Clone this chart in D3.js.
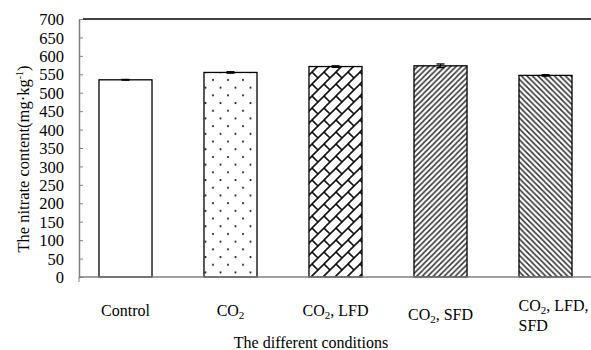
<!DOCTYPE html>
<html>
<head>
<meta charset="utf-8">
<script src="https://cdn.jsdelivr.net/npm/d3@7"></script>
<style>
  body { margin: 0; background: #fff; }
  svg, svg text { font-family: 'Liberation Serif', 'DejaVu Serif', serif !important; fill: #000; }
</style>
</head>
<body>
<div id="chart"></div>
<script>
// values
const categories = ['Control', 'CO2', 'CO2, LFD', 'CO2, SFD', 'CO2, LFD, SFD'];
const nitrate = [535, 555, 571, 573, 547];
const errors = [1, 2, 2, 5, 2];
const yTicks = [0, 50, 100, 150, 200, 250, 300, 350, 400, 450, 500, 550, 600, 650, 700];

const width = 591, height = 350;
const axisX = 79, plotTop = 19, plotBottom = 277;
const serif = "'Liberation Serif', 'DejaVu Serif', serif";

const svg = d3.select('#chart')
  .append('svg')
  .attr('width', width)
  .attr('height', height)
  .style('font-family', serif);

const defs = svg.append('defs');

// dotted fill
const dots = defs.append('pattern')
  .attr('id', 'dots').attr('patternUnits', 'userSpaceOnUse')
  .attr('width', 15).attr('height', 15.4);
dots.append('rect').attr('width', 15).attr('height', 15.4).attr('fill', '#fff');
dots.append('circle').attr('cx', 3).attr('cy', 3).attr('r', 1.1).attr('fill', '#222');
dots.append('circle').attr('cx', 10.5).attr('cy', 10.7).attr('r', 1.1).attr('fill', '#222');

// diagonal brick
const brick = defs.append('pattern')
  .attr('id', 'brick').attr('patternUnits', 'userSpaceOnUse')
  .attr('width', 12).attr('height', 12);
brick.append('rect').attr('width', 12).attr('height', 12).attr('fill', '#fff');
brick.append('path')
  .attr('d', 'M-1,13L13,-1M-1,1L1,-1M11,13L13,11M0,0L6,6')
  .attr('stroke', '#111').attr('stroke-width', 1.6).attr('fill', 'none');

// dense up diagonal
const up = defs.append('pattern')
  .attr('id', 'up').attr('patternUnits', 'userSpaceOnUse')
  .attr('width', 5.5).attr('height', 5.5);
up.append('rect').attr('width', 5.5).attr('height', 5.5).attr('fill', '#fff');
up.append('path')
  .attr('d', 'M-1,6.5L6.5,-1M-1,1L1,-1M4.5,6.5L6.5,4.5')
  .attr('stroke', '#333').attr('stroke-width', 1.5);

// dense down diagonal
const down = defs.append('pattern')
  .attr('id', 'down').attr('patternUnits', 'userSpaceOnUse')
  .attr('width', 5.5).attr('height', 5.5);
down.append('rect').attr('width', 5.5).attr('height', 5.5).attr('fill', '#fff');
down.append('path')
  .attr('d', 'M-1,-1L6.5,6.5M4.5,-1L6.5,1M-1,4.5L1,6.5')
  .attr('stroke', '#333').attr('stroke-width', 1.5);

const fills = ['#fff', 'url(#dots)', 'url(#brick)', 'url(#up)', 'url(#down)'];

const x = d3.scaleBand()
  .domain(categories)
  .range([73, 598])
  .paddingInner(0.495)
  .paddingOuter(0.2475);

const y = d3.scaleLinear()
  .domain([0, 700])
  .range([plotBottom, plotTop]);

// top frame line
svg.append('line')
  .attr('x1', axisX + 4).attr('x2', width)
  .attr('y1', y(700)).attr('y2', y(700))
  .attr('stroke', '#000').attr('stroke-width', 1.3);

// bars
svg.selectAll('rect.bar')
  .data(categories)
  .enter()
  .append('rect')
  .attr('class', 'bar')
  .attr('x', d => x(d))
  .attr('y', (d, i) => y(nitrate[i]))
  .attr('width', x.bandwidth())
  .attr('height', (d, i) => y(0) - y(nitrate[i]))
  .attr('fill', (d, i) => fills[i])
  .attr('stroke', '#000')
  .attr('stroke-width', 1.3);

// error bars
const err = svg.selectAll('g.err')
  .data(categories)
  .enter()
  .append('g')
  .attr('class', 'err')
  .attr('transform', d => 'translate(' + (x(d) + x.bandwidth() / 2) + ',0)');
err.append('line')
  .attr('x1', 0).attr('x2', 0)
  .attr('y1', (d, i) => y(nitrate[i] + errors[i]))
  .attr('y2', (d, i) => y(nitrate[i] - errors[i]))
  .attr('stroke', '#000').attr('stroke-width', 1.2);
err.append('line')
  .attr('x1', -4).attr('x2', 4)
  .attr('y1', (d, i) => y(nitrate[i] + errors[i]))
  .attr('y2', (d, i) => y(nitrate[i] + errors[i]))
  .attr('stroke', '#000').attr('stroke-width', 1.3);
err.append('line')
  .attr('x1', -4).attr('x2', 4)
  .attr('y1', (d, i) => y(nitrate[i] - errors[i]))
  .attr('y2', (d, i) => y(nitrate[i] - errors[i]))
  .attr('stroke', '#000').attr('stroke-width', 1.3);

// y axis
const yAxis = svg.append('g')
  .attr('transform', 'translate(' + axisX + ',0)')
  .call(d3.axisLeft(y).tickValues(yTicks).tickSizeInner(-4).tickSizeOuter(0).tickPadding(15));
yAxis.attr('font-family', null).attr('font-size', null);
yAxis.select('.domain').attr('stroke', '#808080').attr('stroke-width', 1.5);
yAxis.selectAll('.tick line').attr('stroke', '#808080').attr('stroke-width', 1);
yAxis.selectAll('.tick text')
  .style('font-family', serif)
  .style('font-size', '16.5px')
  .attr('dy', '0.34em');

// x axis line
svg.append('line')
  .attr('x1', axisX).attr('x2', width)
  .attr('y1', y(0)).attr('y2', y(0))
  .attr('stroke', '#808080').attr('stroke-width', 1.5);
svg.append('line')
  .attr('x1', axisX).attr('x2', axisX)
  .attr('y1', y(0)).attr('y2', y(0) + 5)
  .attr('stroke', '#808080').attr('stroke-width', 1);

// category labels
const labelG = svg.append('g').style('font-size', '16px');
function label(cx, cy, anchor) {
  return labelG.append('text')
    .attr('x', cx).attr('y', cy)
    .attr('text-anchor', anchor);
}
const cx = d => x(d) + x.bandwidth() / 2;

label(cx(categories[0]), 316, 'middle').text('Control');

let t = label(cx(categories[1]), 316, 'middle');
t.append('tspan').text('CO');
t.append('tspan').style('font-size', '11px').attr('dy', 3).text('2');

t = label(cx(categories[2]), 316, 'middle');
t.append('tspan').text('CO');
t.append('tspan').style('font-size', '11px').attr('dy', 3).text('2');
t.append('tspan').attr('dy', -3).text(', LFD');

t = label(cx(categories[3]), 320, 'middle');
t.append('tspan').text('CO');
t.append('tspan').style('font-size', '11px').attr('dy', 3).text('2');
t.append('tspan').attr('dy', -3).text(', SFD');

t = label(cx(categories[4]) - 27, 311, 'start');
t.append('tspan').text('CO');
t.append('tspan').style('font-size', '11px').attr('dy', 3).text('2');
t.append('tspan').attr('dy', -3).text(', LFD,');
label(cx(categories[4]) - 27, 331, 'start').text('SFD');

// axis titles
svg.append('text')
  .attr('x', 311).attr('y', 348)
  .attr('text-anchor', 'middle')
  .style('font-size', '16px')
  .text('The different conditions');

const yt = svg.append('text')
  .attr('transform', 'translate(29,159) rotate(-90)')
  .attr('text-anchor', 'middle')
  .style('font-size', '16.5px');
yt.append('tspan').text('The nitrate content(mg·kg');
yt.append('tspan').style('font-size', '10px').attr('dy', -6).text('-1');
yt.append('tspan').attr('dy', 6).text(')');
</script>
</body>
</html>
